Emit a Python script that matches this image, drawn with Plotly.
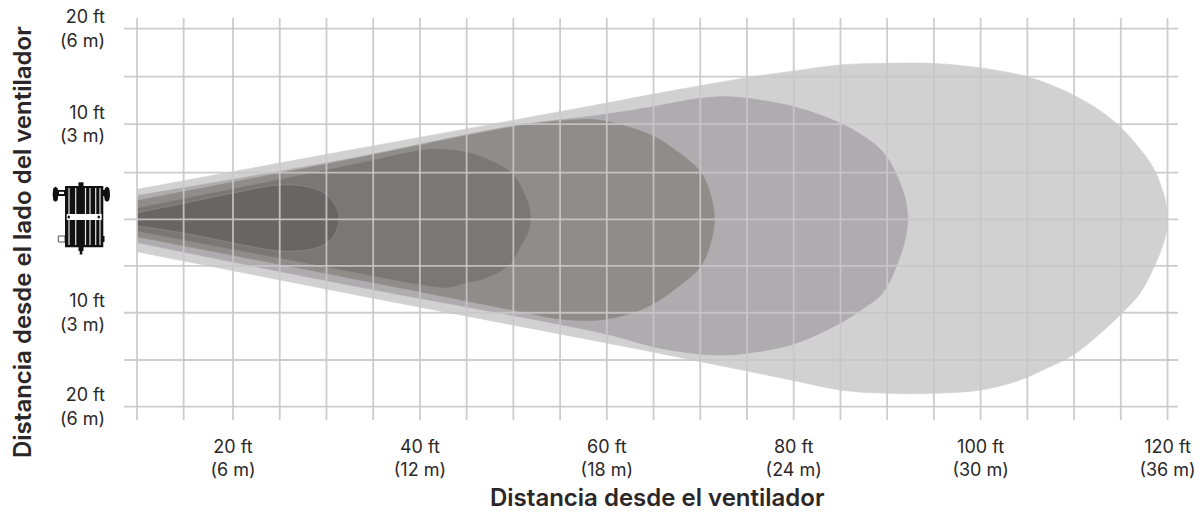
import plotly.graph_objects as go

# Coverage zones (distance from fan in ft, lateral offset in ft)
zone1_x = [9.75, 33.6, 59.3, 64.95, 75, 80, 85, 90, 95, 100, 105, 107.8, 109.9, 112.4, 114.7, 116.7, 118.5, 119.55, 119.9, 120,
           119.9, 119.55, 118.65, 117.05, 115.1, 112.6, 109.9, 107.05, 104.2, 100, 95, 90, 85, 80, 75, 70, 64.95, 59.3, 31.45, 9.75]
zone1_y = [3.14, 7.48, 12.14, 13.2, 14.95, 15.66, 16.3, 16.48, 16.46, 15.98, 15.06, 14.07, 13.12, 11.71, 9.95, 7.83, 5.37, 2.75, 1.2, 0,
           -1.2, -2.6, -4.87, -7.86, -9.98, -12.28, -14.39, -15.8, -17.04, -18.1, -18.44, -18.44, -18.1, -17.09, -16.08, -15.08, -14.07, -12.98, -7.69, -3.46]
zone2_x = [9.75, 31.45, 49.95, 59.3, 64.95, 70, 72.65, 75, 80, 85, 87.5, 89.24, 90.3, 91.15, 91.9, 92.2,
           91.9, 91.15, 90.3, 89.24, 87.5, 85, 80, 75, 72.65, 70, 64.95, 59.95, 31.45, 9.75]
zone2_y = [2.47, 6.19, 9.84, 11.0, 11.88, 12.77, 12.94, 12.77, 11.88, 10.13, 8.73, 7.4, 6.03, 4.34, 2.22, 0,
           -2.22, -4.55, -6.56, -8.15, -9.42, -11.0, -13.23, -14.2, -14.39, -14.29, -13.51, -12.17, -6.8, -2.5]
zone3_x = [9.75, 31.45, 49.95, 55, 58.2, 60.35, 64.95, 67, 70, 71.2, 71.5,
           71.2, 70, 67, 64.95, 62.5, 60, 58.2, 55, 49.95, 31.45, 9.75]
zone3_y = [1.94, 6.08, 9.74, 10.37, 10.53, 10.26, 8.78, 7.51, 5.0, 2.2, 0,
           -2.2, -5.05, -7.62, -8.99, -10.0, -10.58, -10.74, -10.58, -9.63, -6.03, -1.87]
zone4_x = [9.75, 31.45, 40, 41.8, 45, 47.15, 49.95, 51.05, 51.7, 51.9, 51.65, 50.9, 49.8, 47.15, 45, 42.9, 40, 31.45, 9.75]
zone4_y = [1.2, 5.53, 7.3, 7.44, 7.12, 6.42, 4.84, 3.07, 1.5, 0, -1.4, -2.75, -4.69, -6.28, -6.8, -7.3, -6.98, -5.4, -1.34]
zone5_x = [9.75, 14.65, 20, 25.03, 28.24, 30.03, 31.1, 31.38, 30.73, 29.66, 27.89, 25.03, 20, 14.65, 9.75]
zone5_y = [0.67, 1.64, 2.75, 3.6, 3.35, 2.54, 1.13, 0, -1.87, -2.75, -3.28, -3.39, -2.54, -1.48, -0.74]

x_grid = [9.73, 14.72, 20, 25, 30, 35, 40, 45, 50, 55, 60, 65, 70, 75, 80, 85, 90, 95, 100, 105, 110, 115, 120]
y_grid = [20.14, 15.06, 10.05, 4.9, -0.03, -4.97, -9.92, -14.92, -19.86]

x_tick_vals = [20, 40, 60, 80, 100, 120]
x_tick_text = ["20 ft<br>(6 m)", "40 ft<br>(12 m)", "60 ft<br>(18 m)", "80 ft<br>(24 m)", "100 ft<br>(30 m)", "120 ft<br>(36 m)"]
y_tick_vals = [20.14, 10.05, -9.92, -19.86]
y_tick_text = ["20 ft<br>(6 m)", "10 ft<br>(3 m)", "10 ft<br>(3 m)", "20 ft<br>(6 m)"]

x_title = "Distancia desde el ventilador"
y_title = "Distancia desde el lado del ventilador"

FONT = "Inter"
INK = "#2b2728"
GRID = "#c8c8c8"

L, R, T, B = 124, 1178, 18, 420


def px(x):
    return (x - L) / (R - L)


def py(y):
    return (B - y) / (B - T)


fig = go.Figure()
zones = [
    (zone1_x, zone1_y, "#d2d1d2", "#d2d1d2"),
    (zone2_x, zone2_y, "#aeacae", "#aeacae"),
    (zone3_x, zone3_y, "#8f8d8a", "#8f8d8a"),
    (zone4_x, zone4_y, "#7a7875", "#918f8d"),
    (zone5_x, zone5_y, "#686565", "#8f8d8d"),
]
for zx, zy, fill, edge in zones:
    fig.add_trace(go.Scatter(x=zx, y=zy, mode="lines", fill="toself", fillcolor=fill,
                             line=dict(color=edge, width=0.7, shape="spline", smoothing=1.0),
                             hoverinfo="skip", showlegend=False))

shapes = []
for v in x_grid:
    shapes.append(dict(type="line", xref="x", yref="paper", x0=v, x1=v, y0=0, y1=1,
                       line=dict(color=GRID, width=1.8), opacity=0.9))
for v in y_grid:
    shapes.append(dict(type="line", xref="paper", yref="y", x0=0, x1=1, y0=v, y1=v,
                       line=dict(color=GRID, width=1.8), opacity=0.9))


def box(x0, y0, x1, y1, fill="#111111", line=None, kind="rect"):
    shapes.append(dict(type=kind, xref="paper", yref="paper",
                       x0=px(x0), x1=px(x1), y0=py(y0), y1=py(y1),
                       fillcolor=fill, line=dict(color=line or fill, width=1 if line else 0)))


# Fan icon
box(58.3, 236, 65, 242, "#ffffff", "#555555")
box(102, 236, 104.5, 242)
box(58, 190, 66, 196)
box(59, 191.8, 64, 194, "#ffffff")
box(103, 190, 105, 196)
box(52.7, 186.7, 58.3, 201.7, kind="circle")
box(53.4, 188, 57.6, 200.5)
box(104, 186.7, 110, 201.7, kind="circle")
box(104.8, 188, 109.2, 200.5)
box(78.5, 182.3, 83.5, 190)
box(78.5, 245, 83.5, 251)
box(79.7, 250, 82.3, 254.5)
box(65, 186, 103.3, 247.3)
for sx in [69, 75.7, 85.5, 90, 95.7, 100]:
    box(sx - 0.6, 188, sx + 0.6, 245, "#e6e6e6")
box(66.7, 214, 101.7, 220, "#ffffff")
box(67.5, 215.5, 70, 218.5, "#111111", kind="circle")
box(97.5, 215.5, 100, 218.5, "#111111", kind="circle")

title_font = dict(family=FONT, size=24, weight=600, color=INK)
annotations = [
    dict(text=x_title, xref="paper", yref="paper", x=px(657), y=py(498), showarrow=False,
         xanchor="center", yanchor="middle", font=title_font),
    dict(text=y_title, xref="paper", yref="paper", x=px(22), y=py(242), showarrow=False,
         xanchor="center", yanchor="middle", textangle=-90, font=title_font),
]

fig.update_layout(
    width=1200, height=514,
    margin=dict(l=L, r=1200 - R, t=T, b=514 - B, autoexpand=False),
    paper_bgcolor="#ffffff", plot_bgcolor="#ffffff",
    font=dict(family=FONT, size=18, color=INK),
    shapes=shapes,
    annotations=annotations,
    showlegend=False,
    xaxis=dict(range=[8.336, 121.12], showgrid=False, zeroline=False, showline=False,
               tickmode="array", tickvals=x_tick_vals, ticktext=x_tick_text,
               ticks="", ticklabelstandoff=14, automargin=False),
    yaxis=dict(range=[-21.27, 21.27], showgrid=False, zeroline=False, showline=False,
               tickmode="array", tickvals=y_tick_vals, ticktext=y_tick_text,
               ticks="", ticklabelstandoff=18, automargin=False),
)
fig.write_html("out.html", config={"displayModeBar": False},
               post_script="document.body.style.margin='0';")
